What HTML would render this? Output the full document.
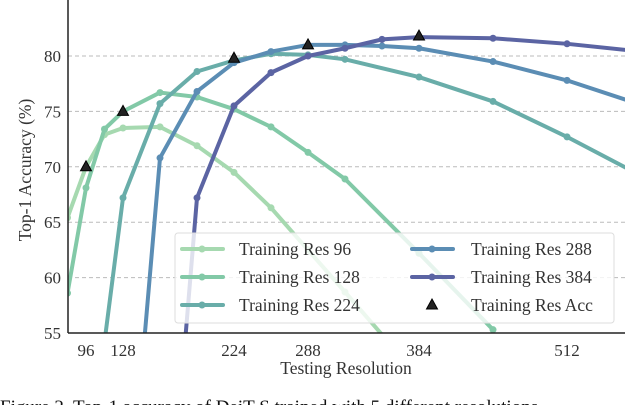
<!DOCTYPE html>
<html><head><meta charset="utf-8"><style>
html,body{margin:0;padding:0;background:#fff;width:640px;height:405px;overflow:hidden;}
svg{display:block;font-family:"Liberation Serif",serif;overflow:hidden;}
</style></head><body>
<svg id="chart" width="640" height="405" viewBox="0 0 640 405"></svg>
<script>
const resolutions=[80,96,112,128,160,192,224,256,288,320,352,384,448,512,576];
const seriesNames=["Training Res 96","Training Res 128","Training Res 224","Training Res 288","Training Res 384"];
const res96=[65.4,70.0,72.9,73.5,73.6,71.9,69.5,66.3,62.5,58.7,null,51,null,null,null];
const res128=[58.6,68.1,73.4,75.0,76.7,76.3,75.2,73.6,71.3,68.9,null,62.2,55.3,null,null];
const res224=[null,null,54.2,67.2,75.7,78.6,79.6,80.2,80.1,79.7,null,78.1,75.9,72.7,69.2];
const res288=[null,null,null,32,70.8,76.8,79.4,80.4,81.0,81.0,80.9,80.7,79.5,77.8,75.6];
const res384=[null,null,null,null,27,67.2,75.5,78.5,80.0,80.7,81.5,81.7,81.6,81.1,80.4];
const trainRes=[96,128,224,288,384];
const trainAcc=[70.0,75.0,79.8,81.0,81.8];
const yTicks=[55,60,65,70,75,80];
const xTicks=[96,128,224,288,384,512];
const colors=["#a6d9b0","#82c9a7","#69ada9","#5b8db4","#5b64a3"];
const NS="http://www.w3.org/2000/svg";
const svg=document.getElementById("chart");
const L=68,R=625,T=0,B=333;
function xs(v){return 86+(v-96)*1.1563;}
function ys(v){return 56+(80-v)*11.08;}
function mk(tag,attrs,parent){const e=document.createElementNS(NS,tag);for(const k in attrs)e.setAttribute(k,attrs[k]);(parent||svg).appendChild(e);return e;}
const defs=mk("defs",{});
const cp=mk("clipPath",{id:"plotclip"},defs);
mk("rect",{x:L,y:T,width:R-L,height:B-T},cp);
yTicks.forEach(t=>{
  if(t>55){const g=mk("line",{x1:L,x2:R,y1:ys(t),y2:ys(t),stroke:"#bbb","stroke-width":1,"stroke-dasharray":"4,3"});
  
  }
  const tx=mk("text",{x:61,y:ys(t)+6,"text-anchor":"end","font-size":17,fill:"#333"});
  tx.textContent=t;
  
  
});
xTicks.forEach(t=>{
  const tx=mk("text",{x:xs(t),y:356,"text-anchor":"middle","font-size":17,fill:"#333"});
  tx.textContent=t;
  
  
});
const series=[res96,res128,res224,res288,res384];
const plot=mk("g",{"clip-path":"url(#plotclip)"});


series.forEach((s,i)=>{
  const g=mk("g",{},plot);
  
  
  let pts=[];
  s.forEach((v,j)=>{if(v!==null)pts.push([xs(resolutions[j]),ys(v)]);});
  const p=mk("polyline",{points:pts.map(p=>p.join(",")).join(" "),fill:"none",stroke:colors[i],"stroke-width":4,"stroke-linejoin":"round"},g);
  
  
  pts.forEach(pt=>{
    const c=mk("circle",{cx:pt[0],cy:pt[1],r:3.5,fill:colors[i]},g);
    
    
  });
});
trainRes.forEach((r,i)=>{
  const x=xs(r),y=ys(trainAcc[i]);
  const m=mk("path",{d:`M${x},${y-6} L${x+5.5},${y+4} L${x-5.5},${y+4} Z`,fill:"#222",stroke:"#000","stroke-width":1},plot);
  
  
});
const sl=mk("line",{x1:L,x2:L,y1:0,y2:B,stroke:"#222","stroke-width":1.5});


const sb=mk("line",{x1:L,x2:R,y1:B,y2:B,stroke:"#222","stroke-width":1.5});


const lg=mk("g",{});


mk("rect",{x:175,y:233,width:439,height:90,rx:3,fill:"rgba(255,255,255,0.8)",stroke:"#ddd","stroke-width":1},lg);
const rowsY=[249,277,305];
seriesNames.forEach((n,i)=>{
  const col=i<3?0:1,row=i<3?i:i-3;
  const lx=col?412:182,tx=col?471:239,y=rowsY[row];
  const e=mk("g",{},lg);
  
  
  mk("line",{x1:lx,x2:lx+41,y1:y,y2:y,stroke:colors[i],"stroke-width":4,"stroke-linecap":"round"},e);
  mk("circle",{cx:lx+20,cy:y,r:3.5,fill:colors[i]},e);
  const t=mk("text",{x:tx,y:y+6,"font-size":17.5,fill:"#333"},e);
  t.textContent=n;
});
const e6=mk("g",{},lg);


mk("path",{d:"M432,299 L437.5,309 L426.5,309 Z",fill:"#222",stroke:"#000","stroke-width":1},e6);
const t6=mk("text",{x:471,y:311,"font-size":17.5,fill:"#333"},e6);
t6.textContent="Training Res Acc";
const xl=mk("text",{x:346,y:374,"text-anchor":"middle","font-size":17.5,fill:"#333"});
xl.textContent="Testing Resolution";


const yl=mk("text",{x:0,y:0,"text-anchor":"middle","font-size":17.5,fill:"#333",transform:"translate(31,170) rotate(-90)"});
yl.textContent="Top-1 Accuracy (%)";


const cap=mk("text",{x:0,y:413,"font-size":19,fill:"#111"});
cap.textContent="Figure 2. Top-1 accuracy of DeiT-S trained with 5 different resolutions";


</script>
</body></html>
